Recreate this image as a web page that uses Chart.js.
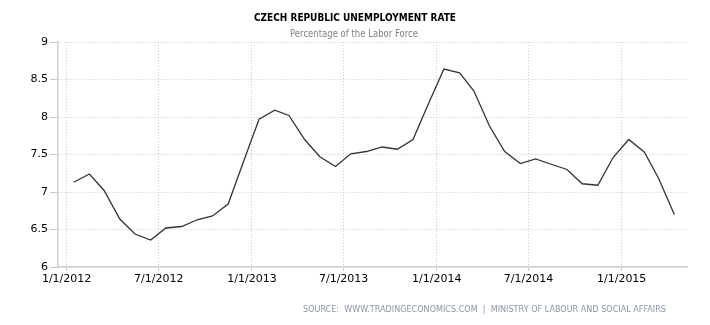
<!DOCTYPE html>
<html>
<head>
<meta charset="utf-8">
<script src="https://cdn.jsdelivr.net/npm/chart.js@4/dist/chart.umd.min.js"></script>
<style>
  html, body { margin: 0; padding: 0; background: #fff; }
  #wrap { width: 710px; height: 325px; }
</style>
</head>
<body>
<div id="wrap"><canvas id="chart" width="710" height="325"></canvas></div>
<script>
// monthly points (mid-month)
const months = [
  '2012-01-15','2012-02-15','2012-03-15','2012-04-15','2012-05-15','2012-06-15',
  '2012-07-15','2012-08-15','2012-09-15','2012-10-15','2012-11-15','2012-12-15',
  '2013-01-15','2013-02-15','2013-03-15','2013-04-15','2013-05-15','2013-06-15',
  '2013-07-15','2013-08-15','2013-09-15','2013-10-15','2013-11-15','2013-12-15',
  '2014-01-15','2014-02-15','2014-03-15','2014-04-15','2014-05-15','2014-06-15',
  '2014-07-15','2014-08-15','2014-09-15','2014-10-15','2014-11-15','2014-12-15',
  '2015-01-15','2015-02-15','2015-03-15','2015-04-15'
];
const rates = [
  7.13, 7.24, 7.02, 6.64, 6.44, 6.36, 6.52, 6.54, 6.63, 6.68, 6.84, 7.40,
  7.97, 8.09, 8.02, 7.70, 7.47, 7.34, 7.51, 7.54, 7.60, 7.57, 7.70, 8.17,
  8.64, 8.59, 8.35, 7.88, 7.54, 7.38, 7.44, 7.37, 7.30, 7.11, 7.09, 7.46,
  7.70, 7.53, 7.18, 6.70
];
const tickDates = ['2012-01-01','2012-07-01','2013-01-01','2013-07-01','2014-01-01','2014-07-01','2015-01-01'];
const tickLabels = ['1/1/2012','7/1/2012','1/1/2013','7/1/2013','1/1/2014','7/1/2014','1/1/2015'];
const yTicks = [6, 6.5, 7, 7.5, 8, 8.5, 9];

const toDay = s => Date.parse(s) / 86400000;

const points = months.map((m, i) => ({ x: toDay(m), y: rates[i] }));

// title, subtitle and source line
const textPlugin = {
  id: 'texts',
  afterDraw(chart) {
    const ctx = chart.ctx;
    ctx.save();
    ctx.textAlign = 'center';
    ctx.textBaseline = 'middle';
    ctx.fillStyle = '#000';
    ctx.font = 'bold 11px "DejaVu Sans"';
    ctx.fillText('CZECH REPUBLIC UNEMPLOYMENT RATE', 355, 18, 202);
    ctx.fillStyle = '#808080';
    ctx.font = '10px "DejaVu Sans"';
    ctx.fillText('Percentage of the Labor Force', 354, 34, 128);
    ctx.fillStyle = '#8a94a6';
    ctx.font = '9px "DejaVu Sans"';
    ctx.textAlign = 'left';
    ctx.fillText('SOURCE:  WWW.TRADINGECONOMICS.COM  |  MINISTRY OF LABOUR AND SOCIAL AFFAIRS', 303, 310, 363);
    ctx.restore();
  }
};

new Chart(document.getElementById('chart'), {
  type: 'line',
  data: {
    datasets: [{
      data: points,
      borderColor: '#333',
      borderWidth: 1.3,
      pointRadius: 0,
      tension: 0,
      fill: false
    }]
  },
  options: {
    responsive: false,
    animation: false,
    layout: { padding: { top: 42, right: 23, left: 0, bottom: 0 } },
    plugins: { legend: { display: false }, tooltip: { enabled: false } },
    scales: {
      x: {
        type: 'linear',
        min: toDay('2011-12-15'),
        max: toDay('2015-05-10'),
        afterBuildTicks: scale => { scale.ticks = tickDates.map(d => ({ value: toDay(d) })); },
        afterFit: scale => { scale.height = 58; },
        ticks: {
          autoSkip: false, maxRotation: 0, padding: 2,
          color: '#000',
          font: { family: 'DejaVu Sans', size: 11 },
          callback: (v, i) => tickLabels[i]
        },
        grid: {
          color: '#c8c8c8', tickLength: 4,
          tickColor: '#c8c8c8', tickBorderDash: []
        },
        border: { color: '#cfcfcf', width: 1.5, dash: [1, 2] }
      },
      y: {
        min: 6, max: 9,
        afterBuildTicks: scale => { scale.ticks = yTicks.map(v => ({ value: v })); },
        afterFit: scale => { scale.width = 58; },
        ticks: {
          padding: 2, color: '#000',
          font: { family: 'DejaVu Sans', size: 11 },
          callback: v => String(v)
        },
        grid: {
          color: '#c8c8c8', tickLength: 8,
          tickColor: '#c8c8c8', tickBorderDash: []
        },
        border: { color: '#cfcfcf', width: 1.5, dash: [1, 2] }
      }
    }
  },
  plugins: [textPlugin]
});
</script>
</body>
</html>
